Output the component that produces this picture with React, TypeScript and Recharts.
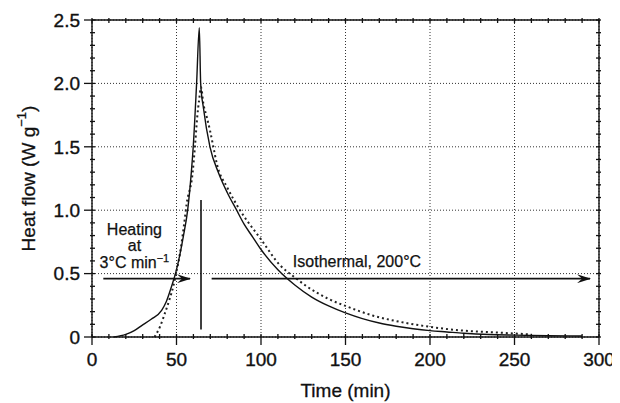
import {
  ComposedChart,
  Line,
  XAxis,
  YAxis,
  CartesianGrid,
  ReferenceLine,
  ReferenceDot,
} from 'recharts';

// measured curve (solid) and model curve (dotted)
const SOLID_TIME = [13, 20, 25, 29.4, 35, 41.2, 44, 47.1, 49.7, 52, 54, 56.6, 58.9, 59.9, 61.9, 63.5, 64.3, 66, 69.8, 75, 80, 85.6, 90, 95, 100, 110, 120, 130, 140, 150, 160, 170, 180, 190, 200, 210, 220, 235, 250, 270, 290];
const SOLID_FLOW = [0, 0.02, 0.05, 0.09, 0.14, 0.21, 0.28, 0.4, 0.515, 0.65, 0.79, 1.0, 1.32, 1.5, 2.0, 2.44, 2.0, 1.8, 1.5, 1.29, 1.14, 1.0, 0.89, 0.79, 0.69, 0.53, 0.41, 0.315, 0.245, 0.19, 0.145, 0.11, 0.085, 0.065, 0.05, 0.04, 0.03, 0.02, 0.015, 0.01, 0.008];

const DOTTED_TIME = [37, 40.2, 43.2, 45.7, 48.1, 49.7, 51, 53, 54.6, 56, 59.5, 60.9, 62.3, 63.4, 64.5, 65.9, 67.8, 69.8, 71.8, 73.8, 80, 87.6, 100, 111, 120, 127, 140, 150, 166, 186, 200, 220, 240, 260];
const DOTTED_FLOW = [0, 0.08, 0.19, 0.29, 0.4, 0.5, 0.58, 0.74, 0.9, 1.05, 1.29, 1.5, 1.74, 1.87, 1.97, 1.84, 1.74, 1.63, 1.5, 1.37, 1.18, 1.0, 0.77, 0.57, 0.47, 0.4, 0.3, 0.245, 0.17, 0.11, 0.08, 0.05, 0.035, 0.02];

const X_MAJOR = [0, 50, 100, 150, 200, 250, 300];
const X_MINOR = [0, 10, 20, 30, 40, 50, 60, 70, 80, 90, 100, 110, 120, 130, 140, 150, 160, 170, 180, 190, 200, 210, 220, 230, 240, 250, 260, 270, 280, 290, 300];
const Y_MAJOR = [0, 0.5, 1.0, 1.5, 2.0, 2.5];
const Y_MINOR = [0, 0.1, 0.2, 0.3, 0.4, 0.5, 0.6, 0.7, 0.8, 0.9, 1.0, 1.1, 1.2, 1.3, 1.4, 1.5, 1.6, 1.7, 1.8, 1.9, 2.0, 2.1, 2.2, 2.3, 2.4, 2.5];

// annotations: arrows, the step marker and the text
const HEAT_ARROW = [{ x: 6.7, y: 0.46 }, { x: 58, y: 0.46 }];
const ISO_ARROW = [{ x: 70.8, y: 0.46 }, { x: 294.7, y: 0.46 }];
const STEP_MARK = [{ x: 64.5, y: 0.06 }, { x: 64.5, y: 1.08 }];
const HEAT_TEXT = [
  { x: 25.1, y: 0.85, text: 'Heating', sup: '' },
  { x: 25.1, y: 0.72, text: 'at', sup: '' },
  { x: 25.1, y: 0.59, text: '3°C min', sup: '−1' },
];
const ISO_TEXT = { x: 156.8, y: 0.6, text: 'Isothermal, 200°C' };

const solidData = SOLID_TIME.map((t, i) => ({ t, v: SOLID_FLOW[i] }));
const dottedData = DOTTED_TIME.map((t, i) => ({ t, v: DOTTED_FLOW[i] }));

const INK = '#111';
const FONT = 19;
const isMajor = (v: number, list: number[]) => list.some((m) => Math.abs(m - v) < 1e-6);
const fmtY = (v: number) => (v === 0 ? '0' : v.toFixed(1));

// bottom axis: inward minor ticks, majors also poke out and carry labels
const BottomTick = (p: any) => {
  const { x, y, payload } = p;
  const major = isMajor(payload.value, X_MAJOR);
  return (
    <g>
      <path d={`M${x},${y - 5}V${y + (major ? 6 : 0)}`} stroke={INK} strokeWidth={1.3} fill="none" />
      {major && (
        <text x={x} y={y + 13} dy="0.72em" textAnchor="middle" fontSize={FONT} fill={INK} stroke={INK} strokeWidth={0.35}>
          {payload.value}
        </text>
      )}
    </g>
  );
};

const TopTick = (p: any) => {
  const { x, y } = p;
  return <path d={`M${x},${y}V${y + 5}`} stroke={INK} strokeWidth={1.3} fill="none" />;
};

const LeftTick = (p: any) => {
  const { x, y, payload } = p;
  const major = isMajor(payload.value, Y_MAJOR);
  return (
    <g>
      <path d={`M${x - (major ? 6 : 0)},${y}H${x + 5}`} stroke={INK} strokeWidth={1.3} fill="none" />
      {major && (
        <text x={x - 10} y={y} dy="0.36em" textAnchor="end" fontSize={FONT} fill={INK} stroke={INK} strokeWidth={0.35}>
          {fmtY(payload.value)}
        </text>
      )}
    </g>
  );
};

const RightTick = (p: any) => {
  const { x, y } = p;
  return <path d={`M${x - 5},${y}H${x}`} stroke={INK} strokeWidth={1.3} fill="none" />;
};

const YTitle = (p: any) => {
  const { viewBox } = p;
  const cx = viewBox.x + 20;
  const cy = viewBox.y + viewBox.height / 2;
  return (
    <text
      x={cx}
      y={cy}
      transform={`rotate(-90, ${cx}, ${cy})`}
      textAnchor="middle"
      dominantBaseline="central"
      fontSize={FONT}
      fill={INK}
      stroke={INK}
      strokeWidth={0.3}
    >
      Heat flow (W g
      <tspan dy={-7} fontSize={13}>−1</tspan>
      <tspan dy={7}>)</tspan>
    </text>
  );
};

const noteLabel = (text: string, sup: string) => (p: any) => {
  const { viewBox } = p;
  return (
    <text
      x={viewBox.x + viewBox.width / 2}
      y={viewBox.y + viewBox.height / 2}
      dy="0.35em"
      textAnchor="middle"
      fontSize={16}
      fill={INK}
      stroke={INK}
      strokeWidth={0.25}
    >
      {text}
      {sup && <tspan dy={-6} fontSize={11}>{sup}</tspan>}
    </text>
  );
};

export default function App() {
  return (
    <div style={{ width: 612, height: 395, fontFamily: '"Liberation Sans", Arial, sans-serif' }}>
      <svg width="0" height="0" style={{ position: 'absolute' }}>
        <defs>
          <marker
            id="arrowHead"
            viewBox="0 0 14 9"
            refX="13"
            refY="4.5"
            markerWidth="14"
            markerHeight="9"
            markerUnits="userSpaceOnUse"
            orient="auto"
          >
            <path d="M0,0 L14,4.5 L0,9 L5,4.5 Z" fill={INK} />
          </marker>
        </defs>
      </svg>
      <ComposedChart width={612} height={395} margin={{ top: 0, right: 0, bottom: 6, left: 0 }}>
        <CartesianGrid
          xAxisId="main"
          yAxisId="main"
          stroke="#333"
          strokeDasharray="1 2"
          horizontalValues={Y_MAJOR}
          verticalValues={X_MAJOR}
        />
        <XAxis
          xAxisId="main"
          type="number"
          dataKey="t"
          domain={[0, 300]}
          ticks={X_MINOR}
          interval={0}
          height={60}
          tickSize={0}
          tickLine={false}
          tick={<BottomTick />}
          stroke={INK}
          strokeWidth={1.4}
          label={{ value: 'Time (min)', position: 'insideBottom', offset: 0, fill: INK, fontSize: FONT, stroke: INK, strokeWidth: 0.3 }}
        />
        <XAxis
          xAxisId="top"
          orientation="top"
          type="number"
          dataKey="t"
          domain={[0, 300]}
          ticks={X_MINOR}
          interval={0}
          height={12}
          tickSize={0}
          tickLine={false}
          tick={<TopTick />}
          stroke={INK}
          strokeWidth={1.4}
        />
        <YAxis
          yAxisId="main"
          type="number"
          domain={[0, 2.5]}
          ticks={Y_MINOR}
          interval={0}
          width={84}
          tickSize={0}
          tickLine={false}
          tick={<LeftTick />}
          stroke={INK}
          strokeWidth={1.4}
          label={<YTitle />}
        />
        <YAxis
          yAxisId="right"
          orientation="right"
          type="number"
          domain={[0, 2.5]}
          ticks={Y_MINOR}
          interval={0}
          width={21}
          tickSize={0}
          tickLine={false}
          tick={<RightTick />}
          stroke={INK}
          strokeWidth={1.4}
        />
        <Line
          xAxisId="top"
          yAxisId="right"
          data={dottedData}
          dataKey="v"
          type="monotone"
          stroke="#222"
          strokeWidth={2}
          strokeDasharray="2 3"
          dot={false}
          isAnimationActive={false}
        />
        <Line
          xAxisId="main"
          yAxisId="main"
          data={solidData}
          dataKey="v"
          type="monotone"
          stroke={INK}
          strokeWidth={1.4}
          dot={false}
          isAnimationActive={false}
        />
        <ReferenceLine
          xAxisId="main"
          yAxisId="main"
          segment={HEAT_ARROW}
          stroke={INK}
          strokeWidth={1.6}
          markerEnd="url(#arrowHead)"
        />
        <ReferenceLine
          xAxisId="main"
          yAxisId="main"
          segment={ISO_ARROW}
          stroke={INK}
          strokeWidth={1.6}
          markerEnd="url(#arrowHead)"
        />
        <ReferenceLine xAxisId="main" yAxisId="main" segment={STEP_MARK} stroke={INK} strokeWidth={1.6} />
        {HEAT_TEXT.map((d) => (
          <ReferenceDot
            key={d.text}
            xAxisId="main"
            yAxisId="main"
            x={d.x}
            y={d.y}
            r={0}
            fill="none"
            stroke="none"
            label={noteLabel(d.text, d.sup)}
          />
        ))}
        <ReferenceDot
          xAxisId="main"
          yAxisId="main"
          x={ISO_TEXT.x}
          y={ISO_TEXT.y}
          r={0}
          fill="none"
          stroke="none"
          label={noteLabel(ISO_TEXT.text, '')}
        />
      </ComposedChart>
    </div>
  );
}
